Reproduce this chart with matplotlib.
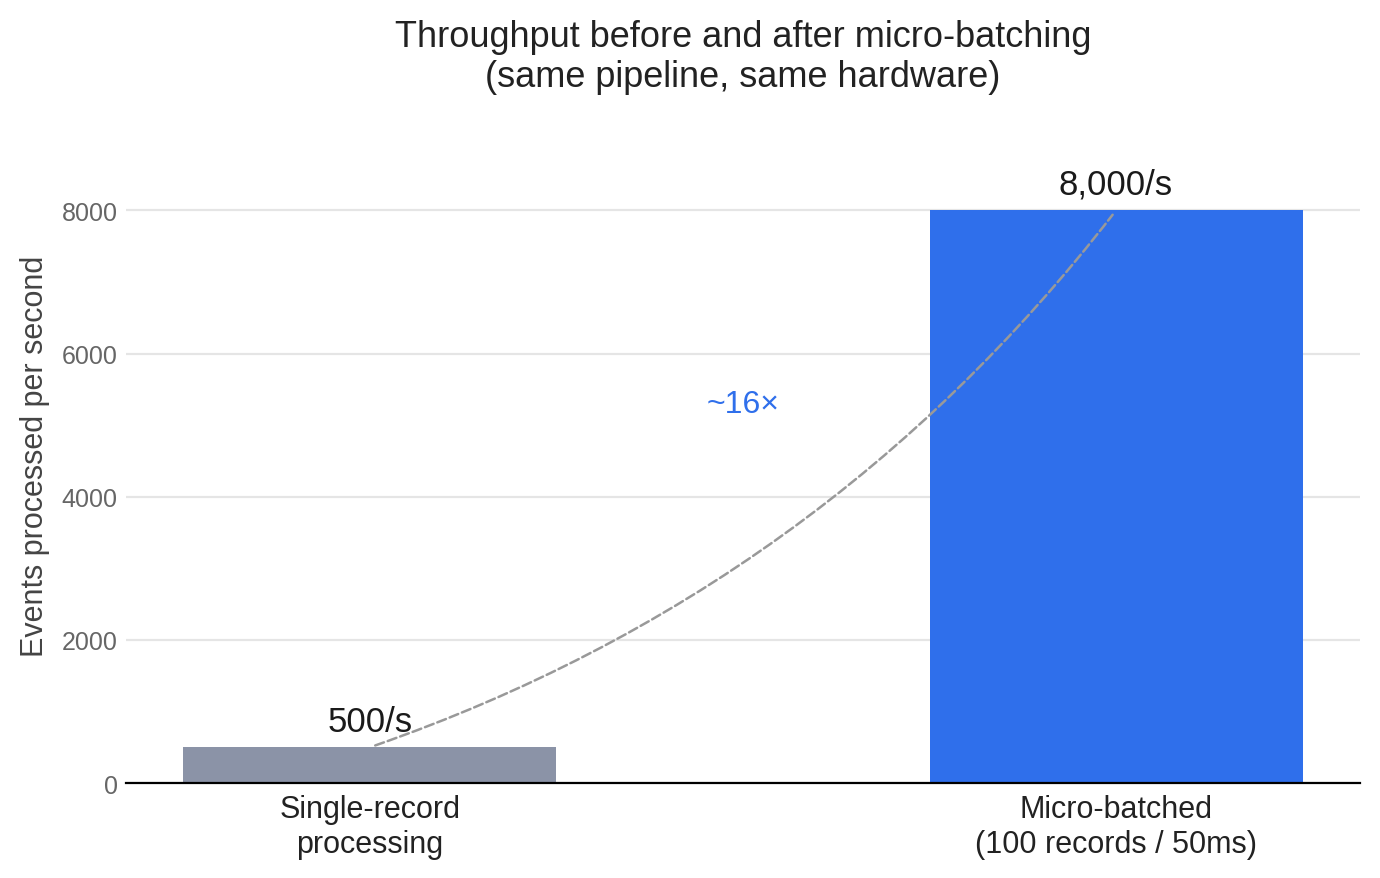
import matplotlib.pyplot as plt
from matplotlib.patches import FancyArrowPatch

plt.rcParams["font.family"] = ["Liberation Sans", "DejaVu Sans"]

categories = ["Single-record\nprocessing", "Micro-batched\n(100 records / 50ms)"]
throughput = [500, 8000]
value_labels = ["500/s", "8,000/s"]
speedup_label = "~16×"
bar_colors = ["#8b93a7", "#2f6feb"]

fig = plt.figure(figsize=(6.9, 4.395), dpi=200)
ax = fig.add_axes([0.0913, 0.108, 0.8942, 0.7452])

x = list(range(len(categories)))
ax.bar(x, throughput, width=0.5, color=bar_colors, zorder=2)

for xi, v, lab in zip(x, throughput, value_labels):
    ax.annotate(lab, (xi, v), xytext=(0, 3.5), textcoords="offset points",
                ha="center", va="bottom", fontsize=12.5, color="#1a1a1a")

# dashed arc linking the two bar tops
arc = FancyArrowPatch((x[0], throughput[0]), (x[1], throughput[1]),
                      arrowstyle="-", connectionstyle="arc3,rad=0.15",
                      linestyle="--", color="#999999", lw=0.9, zorder=3)
ax.add_patch(arc)
ax.text(0.5, 5300, speedup_label, ha="center", va="center",
        fontsize=11.5, color="#2f6feb")

ax.set_xlim(-0.327, 1.327)
ax.set_ylim(0, 9150)
ax.set_yticks([0, 2000, 4000, 6000, 8000])
ax.set_xticks(x)
ax.set_xticklabels(categories, fontsize=11, color="#222222")
ax.tick_params(axis="y", labelsize=9, labelcolor="#666666", length=0, pad=3)
ax.tick_params(axis="x", length=0, pad=4)
ax.grid(axis="y", color="#e5e5e5", linewidth=0.8, zorder=0)
ax.set_axisbelow(True)
for s in ["top", "right", "left"]:
    ax.spines[s].set_visible(False)
ax.spines["bottom"].set_linewidth(0.8)
ax.spines["bottom"].set_color("black")
ax.spines["bottom"].set_zorder(4)

ax.set_ylabel("Events processed per second", fontsize=11, color="#444444", labelpad=4.2)
ax.set_title("Throughput before and after micro-batching\n(same pipeline, same hardware)",
             fontsize=13, color="#222222", pad=15.1)

fig.savefig("out.png", dpi=200)
